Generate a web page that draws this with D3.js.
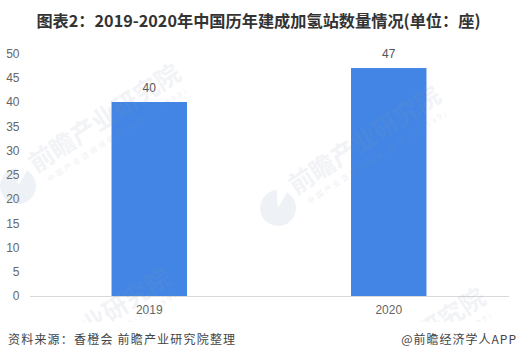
<!DOCTYPE html>
<html>
<head>
<meta charset="utf-8">
<script src="https://cdn.jsdelivr.net/npm/d3@7"></script>
<style>
  html, body { margin: 0; padding: 0; background: #fff; }
  svg { display: block; }
</style>
</head>
<body>
<div id="chart"></div>
<script>
const years  = ["2019", "2020"];
const counts = [40, 47];
const yTicks = [0, 5, 10, 15, 20, 25, 30, 35, 40, 45, 50];

const titleText  = "图表2：2019-2020年中国历年建成加氢站数量情况(单位：座)";
const sourceText = "资料来源：香橙会 前瞻产业研究院整理";
const brandText  = "@前瞻经济学人APP";

// watermark: full text on the upper two, only the visible tail on the lower two
const markFull = "前瞻产业研究院";
const subFull  = "中国产业咨询领导者(股票:839599)";
const markTail = "业研究院";
const subTail  = "(股票:839599)";
const markTail2 = "研究院";
const subTail2  = "839599)";

const W = 518, H = 360;
const margin = { top: 53.5, right: 9.5, bottom: 64, left: 29.5 };
const innerW = W - margin.left - margin.right;
const innerH = H - margin.top - margin.bottom;
const latin = "Arial, 'Liberation Sans', 'Noto Sans CJK SC', sans-serif";
const cjk   = "'Noto Sans CJK SC', sans-serif";

const svg = d3.select("#chart").append("svg")
  .attr("width", W).attr("height", H)
  .style("background", "#fff");

svg.append("defs").append("clipPath").attr("id", "wm-clip")
  .append("rect").attr("width", W).attr("height", 322);

const x = d3.scaleBand().domain(years).range([0, innerW]).paddingInner(0.685).paddingOuter(0.3425);
const y = d3.scaleLinear().domain([0, 50]).range([innerH, 0]);

const g = svg.append("g").attr("transform", `translate(${margin.left},${margin.top})`);

// bars
g.selectAll("rect.bar").data(years).join("rect")
  .attr("class", "bar")
  .attr("x", d => x(d))
  .attr("y", (d, i) => y(counts[i]))
  .attr("width", x.bandwidth())
  .attr("height", (d, i) => innerH - y(counts[i]))
  .attr("fill", "#4285e4");

// value labels
g.selectAll("text.val").data(years).join("text")
  .attr("class", "val")
  .attr("x", d => x(d) + x.bandwidth() / 2)
  .attr("y", (d, i) => y(counts[i]) - 10)
  .attr("text-anchor", "middle")
  .attr("font-family", latin).attr("font-size", "12px").attr("fill", "#555")
  .text((d, i) => counts[i]);

// y axis, labels only
g.append("g")
  .call(d3.axisLeft(y).tickValues(yTicks).tickSize(0).tickPadding(10))
  .call(ax => ax.select(".domain").remove())
  .call(ax => ax.selectAll("text")
    .attr("font-family", latin).attr("font-size", "12px").attr("fill", "#666"));

// x axis
g.append("g")
  .attr("transform", `translate(0,${innerH})`)
  .call(d3.axisBottom(x).tickSize(0).tickPadding(9))
  .call(ax => ax.select(".domain").attr("stroke", "#d9d9d9").attr("stroke-width", 1))
  .call(ax => ax.selectAll("text")
    .attr("font-family", latin).attr("font-size", "12px").attr("fill", "#666"));

// watermarks sit over the bars, cut off above the footer
const wm = svg.append("g").attr("pointer-events", "none").attr("clip-path", "url(#wm-clip)");
const logoArc = d3.arc().innerRadius(0).outerRadius(18).startAngle(1.1).endAngle(2 * Math.PI + 0.5);
const marks = [
  { at: [18, 186],  name: markFull,  sub: subFull,  logo: true },
  { at: [278, 208], name: markFull,  sub: subFull,  logo: true },
  { at: [8, 390],   name: markTail,  sub: subTail,  logo: false },
  { at: [323, 410], name: markTail2, sub: subTail2, logo: false }
];
marks.forEach(d => {
  const m = wm.append("g").attr("transform", `translate(${d.at[0]},${d.at[1]}) rotate(-33)`);
  if (d.logo) m.append("path").attr("d", logoArc()).attr("fill", "#8a9ab8").attr("opacity", 0.14);
  m.append("text").attr("x", 197).attr("y", -1).attr("text-anchor", "end")
    .attr("font-family", cjk).attr("font-size", "25px")
    .attr("font-weight", 700).attr("fill", "#8a9ab8").attr("opacity", 0.11)
    .text(d.name);
  m.append("text").attr("x", 195).attr("y", 14).attr("text-anchor", "end")
    .attr("font-family", cjk).attr("font-size", "7.5px")
    .attr("letter-spacing", "2.6px").attr("fill", "#8a9ab8").attr("opacity", 0.15)
    .text(d.sub);
});

// title and footer
svg.append("text").attr("x", 258.5).attr("y", 27).attr("text-anchor", "middle")
  .attr("font-family", cjk).attr("font-size", "16.2px")
  .attr("font-weight", 700).attr("fill", "#333")
  .text(titleText);

svg.append("text").attr("x", 8).attr("y", 344)
  .attr("font-family", cjk).attr("font-size", "12px")
  .attr("letter-spacing", "1.2px").attr("fill", "#444")
  .text(sourceText);

svg.append("text").attr("x", 517).attr("y", 344).attr("text-anchor", "end")
  .attr("font-family", cjk).attr("font-size", "12px")
  .attr("letter-spacing", "1px").attr("fill", "#444")
  .text(brandText);
</script>
</body>
</html>
